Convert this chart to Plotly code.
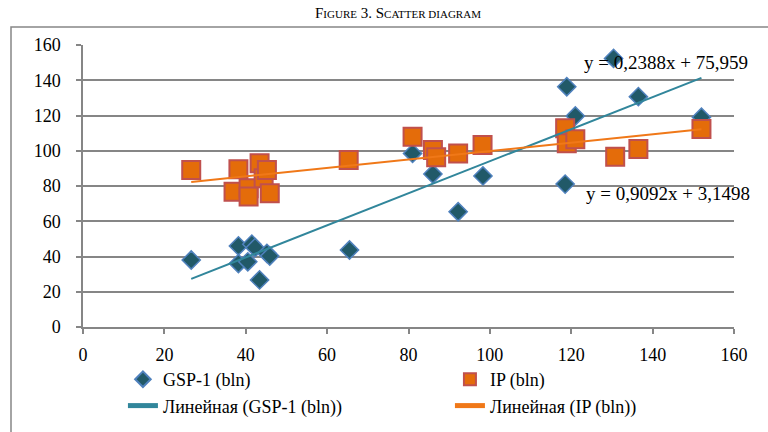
import plotly.graph_objects as go

# ---- data ----
gsp_x = [26.6, 38.2, 38.2, 40.5, 41.5, 42.3, 43.4, 45.2, 45.9, 65.5,
         81.0, 86.0, 92.2, 98.3, 118.5, 118.9, 121.0, 130.4, 136.5, 152.0]
gsp_y = [38.0, 46.0, 36.0, 37.0, 47.0, 45.0, 26.7, 41.8, 40.3, 43.7,
         98.5, 86.8, 65.4, 85.7, 81.1, 136.3, 119.7, 152.4, 130.7, 119.0]

ip_x = [26.6, 37.0, 38.2, 40.7, 40.7, 43.4, 44.4, 45.2, 45.9, 65.3,
        81.0, 86.0, 86.8, 92.2, 98.2, 118.5, 118.9, 121.0, 130.8, 136.5, 152.0]
ip_y = [89.1, 76.8, 89.5, 78.7, 74.0, 92.9, 84.4, 89.1, 75.9, 94.8,
        108.0, 100.4, 96.3, 98.5, 103.3, 112.7, 104.2, 106.5, 96.6, 101.0, 112.4]

gsp_trend = (0.9092, 3.1498)   # slope, intercept
ip_trend = (0.2388, 75.959)

series_names = ["GSP-1 (bln)", "IP (bln)",
                "Линейная (GSP-1 (bln))", "Линейная (IP (bln))"]
eq_labels = ["y = 0,2388x + 75,959", "y = 0,9092x + 3,1498"]
axis_ticks = [0, 20, 40, 60, 80, 100, 120, 140, 160]

FONT = "Liberation Serif, Times New Roman, Tinos, serif"

def trend_line(xs, coef):
    x0, x1 = min(xs), max(xs)
    return [x0, x1], [coef[0] * x0 + coef[1], coef[0] * x1 + coef[1]]

fig = go.Figure()
fig.add_trace(go.Scatter(
    x=gsp_x, y=gsp_y, mode="markers", name=series_names[0],
    marker=dict(symbol="diamond", size=14, color="#215968",
                line=dict(color="#4F81BD", width=1.5))))
fig.add_trace(go.Scatter(
    x=ip_x, y=ip_y, mode="markers", name=series_names[1],
    marker=dict(symbol="square", size=18, color="#E46C0A",
                line=dict(color="#C0504D", width=2))))
tx, ty = trend_line(gsp_x, gsp_trend)
fig.add_trace(go.Scatter(x=tx, y=ty, mode="lines", name=series_names[2],
                         line=dict(color="#31869B", width=2)))
tx, ty = trend_line(ip_x, ip_trend)
fig.add_trace(go.Scatter(x=tx, y=ty, mode="lines", name=series_names[3],
                         line=dict(color="#F07818", width=2)))

# plot area in pixels: x 83..734, y 45..327
L, R, T, B = 83, 34, 45, 105
W, H = 768, 432
pw, ph = W - L - R, H - T - B

def px(xp):
    return (xp - L) / pw

def py(yp):
    return (H - B - yp) / ph

fig.update_layout(
    width=W, height=H,
    margin=dict(l=L, r=R, t=T, b=B, autoexpand=False),
    paper_bgcolor="white", plot_bgcolor="white",
    font=dict(family=FONT, size=18, color="black"),
    showlegend=True,
    legend=dict(orientation="h", x=-0.0001, y=py(361), xanchor="left",
                yanchor="top", entrywidth=242, entrywidthmode="pixels",
                indentation=40, itemsizing="constant",
                font=dict(family=FONT, size=18), bgcolor="rgba(0,0,0,0)",
                traceorder="normal"),
    xaxis=dict(range=[0, 160], tickvals=axis_ticks, showgrid=False,
               zeroline=False, showline=True, linecolor="#868686",
               linewidth=1.5, ticks="outside", ticklen=5, tickwidth=1.5,
               tickcolor="#868686", ticklabelstandoff=6,
               tickfont=dict(family=FONT, size=18)),
    yaxis=dict(range=[0, 160], tickvals=axis_ticks, showgrid=True,
               gridcolor="#868686", gridwidth=1.5, zeroline=False,
               showline=True, linecolor="#868686", linewidth=1.5,
               ticks="outside", ticklen=5, tickwidth=1.5, tickcolor="#868686",
               ticklabelstandoff=12, tickfont=dict(family=FONT, size=18)),
)

# outer chart frame
fig.add_shape(type="rect", xref="paper", yref="paper",
              x0=px(11), x1=px(800), y0=py(27), y1=py(470),
              line=dict(color="#868686", width=1.5), layer="below")

# title (small caps)
fig.add_annotation(
    xref="paper", yref="paper", x=px(398), y=py(13), xanchor="center",
    yanchor="middle", showarrow=False,
    text="F<span style='font-size:11px'>IGURE</span> 3. S"
         "<span style='font-size:11px'>CATTER DIAGRAM</span>",
    font=dict(family=FONT, size=15, color="black"))

# trend-line equations
fig.add_annotation(xref="paper", yref="paper", x=px(582), y=py(62),
                   xanchor="left", yanchor="middle", showarrow=False,
                   text=eq_labels[0], font=dict(family=FONT, size=19))
fig.add_annotation(xref="paper", yref="paper", x=px(584), y=py(193),
                   xanchor="left", yanchor="middle", showarrow=False,
                   text=eq_labels[1], font=dict(family=FONT, size=19))

fig.write_html("out.html")
